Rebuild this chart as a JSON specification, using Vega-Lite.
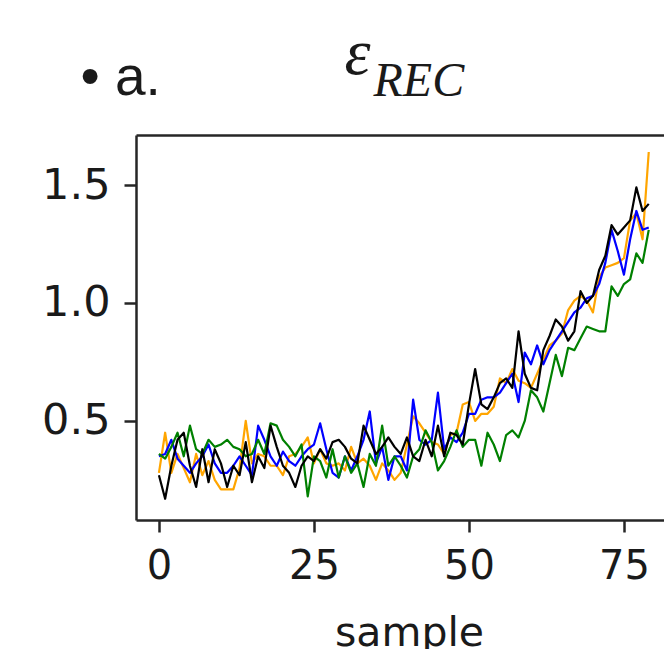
{
"$schema": "https://vega.github.io/schema/vega-lite/v6.json",
"width": 528, "height": 385,
"autosize": {"type": "none"},
"padding": {"left": 136, "top": 135, "right": 0, "bottom": 129},
"config": {"view": {"stroke": null}, "axis": {"domainColor": "#262626", "domainWidth": 2.5, "tickColor": "#262626", "tickWidth": 2.5, "tickSize": 12, "labelFont": "DejaVu Sans", "labelFontSize": 40, "labelColor": "#1a1a1a", "grid": false, "titleFontWeight": "normal", "titleColor": "#1a1a1a", "labelFlush": false}},
"datasets": {"d": [
{"series":"orange","sample":0,"value":0.28},{"series":"orange","sample":1,"value":0.45},{"series":"orange","sample":2,"value":0.28},{"series":"orange","sample":3,"value":0.36},{"series":"orange","sample":4,"value":0.30},{"series":"orange","sample":5,"value":0.24},{"series":"orange","sample":6,"value":0.36},{"series":"orange","sample":7,"value":0.27},{"series":"orange","sample":8,"value":0.33},{"series":"orange","sample":9,"value":0.25},
{"series":"orange","sample":10,"value":0.21},{"series":"orange","sample":11,"value":0.21},{"series":"orange","sample":12,"value":0.21},{"series":"orange","sample":13,"value":0.30},{"series":"orange","sample":14,"value":0.50},{"series":"orange","sample":15,"value":0.32},{"series":"orange","sample":16,"value":0.36},{"series":"orange","sample":17,"value":0.35},{"series":"orange","sample":18,"value":0.31},{"series":"orange","sample":19,"value":0.31},
{"series":"orange","sample":20,"value":0.27},{"series":"orange","sample":21,"value":0.35},{"series":"orange","sample":22,"value":0.36},{"series":"orange","sample":23,"value":0.39},{"series":"orange","sample":24,"value":0.43},{"series":"orange","sample":25,"value":0.32},{"series":"orange","sample":26,"value":0.38},{"series":"orange","sample":27,"value":0.32},{"series":"orange","sample":28,"value":0.31},{"series":"orange","sample":29,"value":0.32},
{"series":"orange","sample":30,"value":0.29},{"series":"orange","sample":31,"value":0.39},{"series":"orange","sample":32,"value":0.32},{"series":"orange","sample":33,"value":0.34},{"series":"orange","sample":34,"value":0.31},{"series":"orange","sample":35,"value":0.25},{"series":"orange","sample":36,"value":0.32},{"series":"orange","sample":37,"value":0.29},{"series":"orange","sample":38,"value":0.25},{"series":"orange","sample":39,"value":0.28},
{"series":"orange","sample":40,"value":0.40},{"series":"orange","sample":41,"value":0.52},{"series":"orange","sample":42,"value":0.49},{"series":"orange","sample":43,"value":0.45},{"series":"orange","sample":44,"value":0.41},{"series":"orange","sample":45,"value":0.40},{"series":"orange","sample":46,"value":0.36},{"series":"orange","sample":47,"value":0.44},{"series":"orange","sample":48,"value":0.45},{"series":"orange","sample":49,"value":0.57},
{"series":"orange","sample":50,"value":0.58},{"series":"orange","sample":51,"value":0.50},{"series":"orange","sample":52,"value":0.53},{"series":"orange","sample":53,"value":0.53},{"series":"orange","sample":54,"value":0.56},{"series":"orange","sample":55,"value":0.68},{"series":"orange","sample":56,"value":0.66},{"series":"orange","sample":57,"value":0.72},{"series":"orange","sample":58,"value":0.67},{"series":"orange","sample":59,"value":0.66},
{"series":"orange","sample":60,"value":0.64},{"series":"orange","sample":61,"value":0.70},{"series":"orange","sample":62,"value":0.76},{"series":"orange","sample":63,"value":0.82},{"series":"orange","sample":64,"value":0.84},{"series":"orange","sample":65,"value":0.87},{"series":"orange","sample":66,"value":0.97},{"series":"orange","sample":67,"value":1.01},{"series":"orange","sample":68,"value":1.03},{"series":"orange","sample":69,"value":1.01},
{"series":"orange","sample":70,"value":0.96},{"series":"orange","sample":71,"value":1.11},{"series":"orange","sample":72,"value":1.15},{"series":"orange","sample":73,"value":1.16},{"series":"orange","sample":74,"value":1.17},{"series":"orange","sample":75,"value":1.19},{"series":"orange","sample":76,"value":1.35},{"series":"orange","sample":77,"value":1.38},{"series":"orange","sample":78,"value":1.27},{"series":"orange","sample":79,"value":1.64},
{"series":"blue","sample":0,"value":0.35},{"series":"blue","sample":1,"value":0.36},{"series":"blue","sample":2,"value":0.42},{"series":"blue","sample":3,"value":0.34},{"series":"blue","sample":4,"value":0.31},{"series":"blue","sample":5,"value":0.28},{"series":"blue","sample":6,"value":0.32},{"series":"blue","sample":7,"value":0.35},{"series":"blue","sample":8,"value":0.40},{"series":"blue","sample":9,"value":0.32},
{"series":"blue","sample":10,"value":0.28},{"series":"blue","sample":11,"value":0.28},{"series":"blue","sample":12,"value":0.31},{"series":"blue","sample":13,"value":0.35},{"series":"blue","sample":14,"value":0.31},{"series":"blue","sample":15,"value":0.27},{"series":"blue","sample":16,"value":0.48},{"series":"blue","sample":17,"value":0.42},{"series":"blue","sample":18,"value":0.35},{"series":"blue","sample":19,"value":0.31},
{"series":"blue","sample":20,"value":0.37},{"series":"blue","sample":21,"value":0.33},{"series":"blue","sample":22,"value":0.31},{"series":"blue","sample":23,"value":0.35},{"series":"blue","sample":24,"value":0.38},{"series":"blue","sample":25,"value":0.40},{"series":"blue","sample":26,"value":0.49},{"series":"blue","sample":27,"value":0.38},{"series":"blue","sample":28,"value":0.28},{"series":"blue","sample":29,"value":0.26},
{"series":"blue","sample":30,"value":0.35},{"series":"blue","sample":31,"value":0.29},{"series":"blue","sample":32,"value":0.35},{"series":"blue","sample":33,"value":0.42},{"series":"blue","sample":34,"value":0.54},{"series":"blue","sample":35,"value":0.32},{"series":"blue","sample":36,"value":0.39},{"series":"blue","sample":37,"value":0.25},{"series":"blue","sample":38,"value":0.35},{"series":"blue","sample":39,"value":0.35},
{"series":"blue","sample":40,"value":0.29},{"series":"blue","sample":41,"value":0.59},{"series":"blue","sample":42,"value":0.42},{"series":"blue","sample":43,"value":0.40},{"series":"blue","sample":44,"value":0.42},{"series":"blue","sample":45,"value":0.62},{"series":"blue","sample":46,"value":0.38},{"series":"blue","sample":47,"value":0.43},{"series":"blue","sample":48,"value":0.41},{"series":"blue","sample":49,"value":0.45},
{"series":"blue","sample":50,"value":0.53},{"series":"blue","sample":51,"value":0.53},{"series":"blue","sample":52,"value":0.59},{"series":"blue","sample":53,"value":0.60},{"series":"blue","sample":54,"value":0.60},{"series":"blue","sample":55,"value":0.62},{"series":"blue","sample":56,"value":0.66},{"series":"blue","sample":57,"value":0.70},{"series":"blue","sample":58,"value":0.58},{"series":"blue","sample":59,"value":0.79},
{"series":"blue","sample":60,"value":0.74},{"series":"blue","sample":61,"value":0.82},{"series":"blue","sample":62,"value":0.74},{"series":"blue","sample":63,"value":0.80},{"series":"blue","sample":64,"value":0.84},{"series":"blue","sample":65,"value":0.88},{"series":"blue","sample":66,"value":0.92},{"series":"blue","sample":67,"value":0.96},{"series":"blue","sample":68,"value":0.98},{"series":"blue","sample":69,"value":1.02},
{"series":"blue","sample":70,"value":1.03},{"series":"blue","sample":71,"value":1.08},{"series":"blue","sample":72,"value":1.17},{"series":"blue","sample":73,"value":1.31},{"series":"blue","sample":74,"value":1.22},{"series":"blue","sample":75,"value":1.12},{"series":"blue","sample":76,"value":1.27},{"series":"blue","sample":77,"value":1.39},{"series":"blue","sample":78,"value":1.31},{"series":"blue","sample":79,"value":1.32},
{"series":"green","sample":0,"value":0.36},{"series":"green","sample":1,"value":0.34},{"series":"green","sample":2,"value":0.39},{"series":"green","sample":3,"value":0.45},{"series":"green","sample":4,"value":0.35},{"series":"green","sample":5,"value":0.48},{"series":"green","sample":6,"value":0.38},{"series":"green","sample":7,"value":0.36},{"series":"green","sample":8,"value":0.42},{"series":"green","sample":9,"value":0.39},
{"series":"green","sample":10,"value":0.40},{"series":"green","sample":11,"value":0.42},{"series":"green","sample":12,"value":0.39},{"series":"green","sample":13,"value":0.38},{"series":"green","sample":14,"value":0.35},{"series":"green","sample":15,"value":0.36},{"series":"green","sample":16,"value":0.42},{"series":"green","sample":17,"value":0.36},{"series":"green","sample":18,"value":0.49},{"series":"green","sample":19,"value":0.48},
{"series":"green","sample":20,"value":0.42},{"series":"green","sample":21,"value":0.39},{"series":"green","sample":22,"value":0.35},{"series":"green","sample":23,"value":0.40},{"series":"green","sample":24,"value":0.18},{"series":"green","sample":25,"value":0.35},{"series":"green","sample":26,"value":0.33},{"series":"green","sample":27,"value":0.26},{"series":"green","sample":28,"value":0.38},{"series":"green","sample":29,"value":0.26},
{"series":"green","sample":30,"value":0.35},{"series":"green","sample":31,"value":0.28},{"series":"green","sample":32,"value":0.32},{"series":"green","sample":33,"value":0.22},{"series":"green","sample":34,"value":0.36},{"series":"green","sample":35,"value":0.31},{"series":"green","sample":36,"value":0.48},{"series":"green","sample":37,"value":0.31},{"series":"green","sample":38,"value":0.35},{"series":"green","sample":39,"value":0.31},
{"series":"green","sample":40,"value":0.26},{"series":"green","sample":41,"value":0.35},{"series":"green","sample":42,"value":0.38},{"series":"green","sample":43,"value":0.46},{"series":"green","sample":44,"value":0.41},{"series":"green","sample":45,"value":0.29},{"series":"green","sample":46,"value":0.33},{"series":"green","sample":47,"value":0.39},{"series":"green","sample":48,"value":0.46},{"series":"green","sample":49,"value":0.39},
{"series":"green","sample":50,"value":0.42},{"series":"green","sample":51,"value":0.42},{"series":"green","sample":52,"value":0.31},{"series":"green","sample":53,"value":0.45},{"series":"green","sample":54,"value":0.40},{"series":"green","sample":55,"value":0.33},{"series":"green","sample":56,"value":0.44},{"series":"green","sample":57,"value":0.46},{"series":"green","sample":58,"value":0.43},{"series":"green","sample":59,"value":0.50},
{"series":"green","sample":60,"value":0.63},{"series":"green","sample":61,"value":0.60},{"series":"green","sample":62,"value":0.54},{"series":"green","sample":63,"value":0.66},{"series":"green","sample":64,"value":0.78},{"series":"green","sample":65,"value":0.69},{"series":"green","sample":66,"value":0.81},{"series":"green","sample":67,"value":0.80},{"series":"green","sample":68,"value":0.85},{"series":"green","sample":69,"value":0.90},
{"series":"green","sample":70,"value":0.89},{"series":"green","sample":71,"value":0.88},{"series":"green","sample":72,"value":0.88},{"series":"green","sample":73,"value":1.07},{"series":"green","sample":74,"value":1.03},{"series":"green","sample":75,"value":1.08},{"series":"green","sample":76,"value":1.10},{"series":"green","sample":77,"value":1.21},{"series":"green","sample":78,"value":1.17},{"series":"green","sample":79,"value":1.31},
{"series":"black","sample":0,"value":0.27},{"series":"black","sample":1,"value":0.17},{"series":"black","sample":2,"value":0.31},{"series":"black","sample":3,"value":0.42},{"series":"black","sample":4,"value":0.45},{"series":"black","sample":5,"value":0.31},{"series":"black","sample":6,"value":0.22},{"series":"black","sample":7,"value":0.38},{"series":"black","sample":8,"value":0.24},{"series":"black","sample":9,"value":0.38},
{"series":"black","sample":10,"value":0.32},{"series":"black","sample":11,"value":0.22},{"series":"black","sample":12,"value":0.31},{"series":"black","sample":13,"value":0.27},{"series":"black","sample":14,"value":0.41},{"series":"black","sample":15,"value":0.24},{"series":"black","sample":16,"value":0.35},{"series":"black","sample":17,"value":0.30},{"series":"black","sample":18,"value":0.48},{"series":"black","sample":19,"value":0.39},
{"series":"black","sample":20,"value":0.31},{"series":"black","sample":21,"value":0.28},{"series":"black","sample":22,"value":0.22},{"series":"black","sample":23,"value":0.31},{"series":"black","sample":24,"value":0.35},{"series":"black","sample":25,"value":0.33},{"series":"black","sample":26,"value":0.38},{"series":"black","sample":27,"value":0.34},{"series":"black","sample":28,"value":0.41},{"series":"black","sample":29,"value":0.42},
{"series":"black","sample":30,"value":0.39},{"series":"black","sample":31,"value":0.34},{"series":"black","sample":32,"value":0.32},{"series":"black","sample":33,"value":0.48},{"series":"black","sample":34,"value":0.42},{"series":"black","sample":35,"value":0.36},{"series":"black","sample":36,"value":0.39},{"series":"black","sample":37,"value":0.43},{"series":"black","sample":38,"value":0.39},{"series":"black","sample":39,"value":0.36},
{"series":"black","sample":40,"value":0.43},{"series":"black","sample":41,"value":0.35},{"series":"black","sample":42,"value":0.33},{"series":"black","sample":43,"value":0.42},{"series":"black","sample":44,"value":0.35},{"series":"black","sample":45,"value":0.48},{"series":"black","sample":46,"value":0.35},{"series":"black","sample":47,"value":0.45},{"series":"black","sample":48,"value":0.44},{"series":"black","sample":49,"value":0.40},
{"series":"black","sample":50,"value":0.57},{"series":"black","sample":51,"value":0.72},{"series":"black","sample":52,"value":0.57},{"series":"black","sample":53,"value":0.55},{"series":"black","sample":54,"value":0.60},{"series":"black","sample":55,"value":0.66},{"series":"black","sample":56,"value":0.68},{"series":"black","sample":57,"value":0.64},{"series":"black","sample":58,"value":0.88},{"series":"black","sample":59,"value":0.70},
{"series":"black","sample":60,"value":0.64},{"series":"black","sample":61,"value":0.63},{"series":"black","sample":62,"value":0.80},{"series":"black","sample":63,"value":0.86},{"series":"black","sample":64,"value":0.93},{"series":"black","sample":65,"value":0.90},{"series":"black","sample":66,"value":0.84},{"series":"black","sample":67,"value":0.88},{"series":"black","sample":68,"value":1.05},{"series":"black","sample":69,"value":1.00},
{"series":"black","sample":70,"value":1.03},{"series":"black","sample":71,"value":1.14},{"series":"black","sample":72,"value":1.20},{"series":"black","sample":73,"value":1.33},{"series":"black","sample":74,"value":1.29},{"series":"black","sample":75,"value":1.32},{"series":"black","sample":76,"value":1.35},{"series":"black","sample":77,"value":1.49},{"series":"black","sample":78,"value":1.39},{"series":"black","sample":79,"value":1.42}
]},
"data": {"name": "d"},
"layer": [
 {
  "transform": [{"filter": "datum.series !== 'black'"}],
  "mark": {"type": "line", "strokeWidth": 2.2, "strokeJoin": "round"},
  "encoding": {
   "x": {"field": "sample", "type": "quantitative", "scale": {"domain": [-3.7, 81.46], "nice": false, "zero": false},
     "axis": {"orient": "bottom", "values": [0, 25, 50, 75], "labelPadding": 14, "title": "sample", "titleFont": "DejaVu Sans", "titleFontSize": 41, "titleX": 273, "titleY": 125, "titleAlign": "center", "titleBaseline": "alphabetic"}},
   "y": {"field": "value", "type": "quantitative", "scale": {"domain": [0.08, 1.712], "nice": false, "zero": false},
     "axis": {"orient": "left", "values": [0.5, 1.0, 1.5], "format": ".1f", "labelPadding": 14, "labelFontSize": 43, "title": "REC", "titleFont": "Liberation Serif", "titleFontStyle": "italic", "titleFontSize": 48, "titleAngle": 0, "titleX": 237, "titleY": -40, "titleAlign": "left", "titleBaseline": "alphabetic"}},
   "color": {"field": "series", "type": "nominal", "scale": {"domain": ["orange", "blue", "green", "black"], "range": ["#ffa500", "#0000ff", "#008000", "#000000"]}, "legend": null}
  }
 },
 {
  "transform": [{"filter": "datum.series === 'black'"}],
  "mark": {"type": "line", "strokeWidth": 2.2, "strokeJoin": "round"},
  "encoding": {
   "x": {"field": "sample", "type": "quantitative", "scale": {"domain": [-3.7, 81.46], "nice": false, "zero": false},
     "axis": {"orient": "top", "ticks": false, "labels": false, "title": "ε", "titleFont": "Liberation Serif", "titleFontStyle": "italic", "titleFontSize": 66, "titleX": 208, "titleY": -62, "titleAlign": "left", "titleBaseline": "alphabetic"}},
   "y": {"field": "value", "type": "quantitative", "scale": {"domain": [0.08, 1.712], "nice": false, "zero": false},
     "axis": {"orient": "right", "domain": false, "ticks": false, "labels": false, "title": "•  a.", "titleFont": "Liberation Sans", "titleFontSize": 55, "titleAngle": 0, "titleX": -584, "titleY": -41, "titleAlign": "left", "titleBaseline": "alphabetic"}},
   "color": {"field": "series", "type": "nominal", "legend": null}
  }
 }
],
"resolve": {"scale": {"x": "independent", "y": "independent"}}
}
